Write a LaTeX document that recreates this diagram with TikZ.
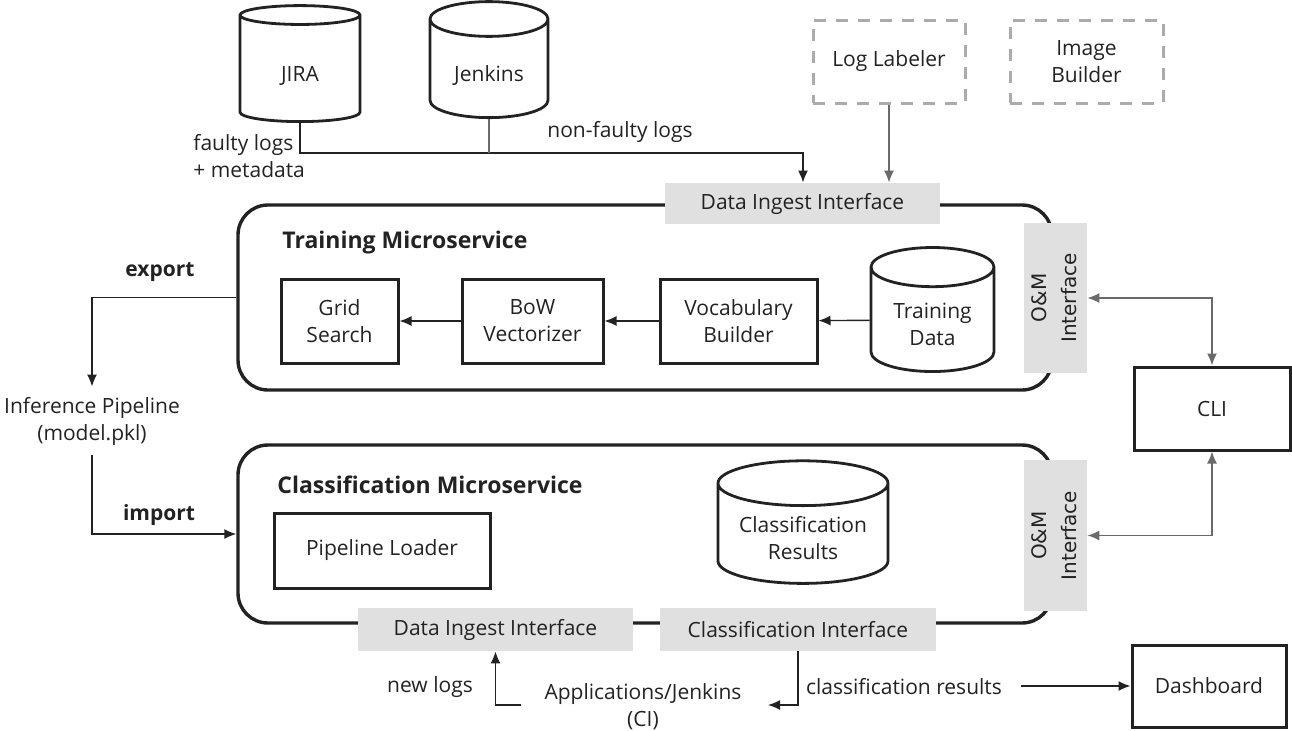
\documentclass[tikz,border=0pt]{standalone}
\usepackage{fontspec}
\usepackage{graphicx}
\setmainfont{Open Sans}
\newfontfamily\omfont{DejaVu Sans}
\usetikzlibrary{positioning,calc}
\usetikzlibrary{shapes.geometric,arrows.meta}
\definecolor{ifgray}{HTML}{E0E0E0}
\definecolor{dashgray}{HTML}{ABABAB}
\definecolor{ink}{HTML}{222222}
\definecolor{wire}{HTML}{6A6A6A}
\tikzset{
  bx/.style={rectangle, draw=ink, line width=1.5pt, align=center, inner sep=0pt, text=ink},
  db/.style={cylinder, shape border rotate=90, aspect=0.5, draw=ink, line width=1.4pt, inner sep=0pt, text=ink},
  ms/.style={rectangle, draw=ink, line width=1.7pt, rounded corners=15pt},
  itf/.style={rectangle, fill=ifgray, align=center, inner sep=0pt, text=ink},
  fut/.style={rectangle, draw=dashgray, dash pattern=on 6pt off 5pt, line width=1.5pt, align=center, inner sep=0pt, text=ink},
  lbl/.style={text=ink, align=center, inner sep=0pt},
  ttl/.style={text=ink, font=\fontsize{11.5}{14}\selectfont\bfseries, anchor=west, inner sep=0pt},
  ln/.style={draw=ink, line width=0.7pt},
  node distance=7mm
}
% text of a database sits a little below the middle, under the top cap
\newcommand{\dbl}[1]{\raisebox{-3.5pt}[\height][\depth]{\begin{tabular}{@{}c@{}}#1\end{tabular}}}
\newcommand{\omtext}{\rotatebox{90}{\omfont\fontsize{10}{15}\selectfont\begin{tabular}{@{}c@{}}O\&M\\Interface\end{tabular}}}

\begin{document}
\begin{tikzpicture}[x=0.5pt, y=-0.5pt, >={Latex[length=6pt,width=5pt]},
  font=\fontsize{10.5}{13.5}\selectfont]
\useasboundingbox (0,0) rectangle (1292,730);

% sources and future components
\node[db, minimum width=60pt, minimum height=58pt] (jira) at (300,69) {\dbl{JIRA}};
\node[db, minimum width=59pt, minimum height=58pt] (jenkins) at (489,69) {\dbl{Jenkins}};
\node[fut, minimum width=76pt, minimum height=41.5pt] (loglab) at (889,61.5) {Log Labeler};
\node[fut, minimum width=76.5pt, minimum height=41.5pt] (imgbld) at (1086.5,61.5) {Image\\Builder};

% microservices
\node[ms, minimum width=407pt, minimum height=92.5pt] (train) at (645,297.5) {};
\node[ttl] (traintitle) at (282,243) {Training Microservice};
\node[bx, minimum width=58.5pt, minimum height=42pt] (grid) at (339.5,321) {Grid\\Search};
\node[bx, minimum width=70.5pt, minimum height=42pt] (bow) at (532.5,321) {BoW\\Vectorizer};
\node[bx, minimum width=78.5pt, minimum height=42pt] (vocab) at (738.5,321) {Vocabulary\\Builder};
\node[db, minimum width=61.5pt, minimum height=62pt] (traindata) at (932.5,320) {\dbl{Training\\Data}};

\node[ms, minimum width=407pt, minimum height=89pt] (cls) at (645,534) {};
\node[ttl] (clstitle) at (277,485) {Classification Microservice};
\node[bx, minimum width=108pt, minimum height=37.5pt] (loader) at (382,550.5) {Pipeline Loader};
\node[db, aspect=0.35, minimum width=85pt, minimum height=61pt] (results) at (803,534) {\dbl{Classification\\Results}};

% interfaces
\node[itf, minimum width=137.5pt, minimum height=20.5pt] (ingtop) at (802.5,203.5) {Data Ingest Interface};
\node[itf, minimum width=137.5pt, minimum height=21.5pt] (ingbot) at (495.5,629.5) {Data Ingest Interface};
\node[itf, minimum width=138pt, minimum height=21.5pt] (clsif) at (798,629.5) {Classification Interface};
\node[itf, minimum width=31.5pt, minimum height=75pt] (om1) at (1055.5,298) {\omtext};
\node[itf, minimum width=31.5pt, minimum height=75.5pt] (om2) at (1055.5,535.5) {\omtext};

\node[bx, minimum width=78pt, minimum height=41.5pt] (cli) at (1212,408.5) {CLI};
\node[bx, minimum width=77pt, minimum height=41pt] (dash) at (1209,686) {Dashboard};

% labels
\node[lbl, anchor=west, align=left] (faulty) at (193,156) {faulty logs\\+ metadata};
\node[lbl] (nonfaulty) at (620,132) {non-faulty logs};
\node[lbl, font=\fontsize{10.5}{13.5}\selectfont\bfseries] (export) at (160,272) {export};
\node[lbl, inner sep=5pt] (inf) at (92,421) {Inference Pipeline\\(model.pkl)};
\node[lbl, font=\fontsize{10.5}{13.5}\selectfont\bfseries] (import) at (159,515) {import};
\node[lbl] (newlogs) at (430,687) {new logs};
\node[lbl] (apps) at (643,707) {Applications/Jenkins\\(CI)};
\node[lbl] (cres) at (904,687) {classification results};

\coordinate (jmerge) at (803,153);
\coordinate (appsin) at (521,705);
\coordinate (appsout) at (768,705);
\coordinate (cresout) at (1021,686);

% connectors
\draw[ln, line width=0.9pt, ->] (jira.south) |- (jmerge) -- (jmerge |- ingtop.north);
\draw[ln, draw=wire] (jenkins.south) -- (jenkins.south |- jmerge);
\draw[ln, draw=wire, ->] (loglab.south) -- (loglab.south |- ingtop.north);
\draw[ln, ->] (vocab) -- (bow);
\draw[ln, ->] (bow) -- (grid);
\draw[ln, ->] (traindata) -- (vocab);
\draw[ln, ->] (train.west) -| (inf.north);
\draw[ln, ->] (inf.south) |- (cls.west);
\draw[ln, draw=wire, <->] (om1.east) -| (cli.north);
\draw[ln, draw=wire, <->] (om2.east) -| (cli.south);
\draw[ln, ->] (appsin) -| (ingbot.south);
\draw[ln, ->] (clsif.south) |- (appsout);
\draw[ln, ->] (cresout) -- (dash.west);
\end{tikzpicture}
\end{document}
